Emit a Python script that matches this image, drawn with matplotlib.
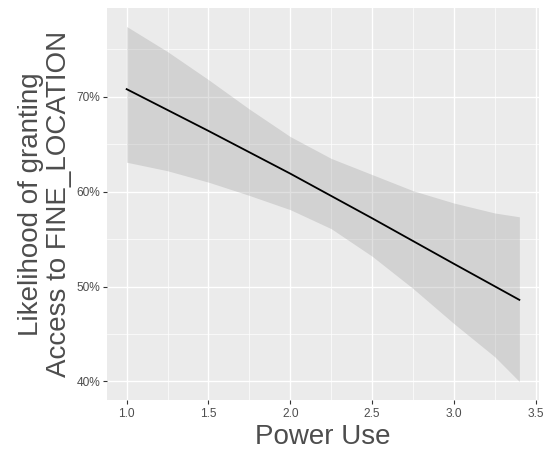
import matplotlib
matplotlib.use("Agg")
import matplotlib.pyplot as plt
import numpy as np

plt.rcParams['font.family'] = ['Liberation Sans', 'DejaVu Sans']

# Fitted line (percent)
line_x = [1.0, 1.5, 2.0, 2.5, 3.0, 3.4]
line_y = [70.8, 66.4, 61.9, 57.2, 52.4, 48.6]

# Confidence ribbon (percent)
band_x = [1.0, 1.25, 1.5, 1.75, 2.0, 2.25, 2.5, 2.75, 3.0, 3.25, 3.4]
band_upper = [77.4, 74.75, 71.8, 68.7, 65.8, 63.5, 61.8, 60.1, 58.8, 57.75, 57.35]
band_lower = [63.1, 62.2, 61.0, 59.6, 58.1, 56.1, 53.2, 49.8, 46.1, 42.6, 40.0]

x_ticks = [1.0, 1.5, 2.0, 2.5, 3.0, 3.5]
x_tick_labels = ["1.0", "1.5", "2.0", "2.5", "3.0", "3.5"]
y_ticks = [40, 50, 60, 70]
y_tick_labels = ["40%", "50%", "60%", "70%"]

fig = plt.figure(figsize=(5.49, 4.5), dpi=100)
ax = fig.add_axes([107/549, 1-400/450, (539-107)/549, (400-7.5)/450])
ax.set_facecolor('#EBEBEB')

ax.fill_between(band_x, band_lower, band_upper, color='#999999', alpha=0.3,
                linewidth=0, zorder=2)
ax.plot(line_x, line_y, color='black', lw=1.3, zorder=3)

ax.set_xlim(0.88, 3.52)
ax.set_ylim(38.05, 79.4)

ax.set_xticks(x_ticks)
ax.set_xticklabels(x_tick_labels)
ax.set_yticks(y_ticks)
ax.set_yticklabels(y_tick_labels)
ax.set_xticks([1.25, 1.75, 2.25, 2.75, 3.25], minor=True)
ax.set_yticks([45, 55, 65, 75], minor=True)

ax.grid(which='major', color='white', lw=1.0, zorder=1)
ax.grid(which='minor', color='white', lw=0.5, zorder=1)
ax.set_axisbelow(True)
for s in ax.spines.values():
    s.set_visible(False)

ax.tick_params(which='major', length=3, width=0.8, color='#333333',
               labelsize=8.6, labelcolor='#4D4D4D')
ax.tick_params(axis='x', pad=3)
ax.tick_params(axis='y', pad=2)
ax.tick_params(which='minor', length=0)

ax.set_xlabel("Power Use", fontsize=20, color='#4D4D4D', labelpad=3)
ax.set_ylabel("Likelihood of granting\nAccess to FINE_LOCATION", fontsize=20,
              color='#4D4D4D', labelpad=3, linespacing=1.12)

fig.savefig("out.png", dpi=100)
